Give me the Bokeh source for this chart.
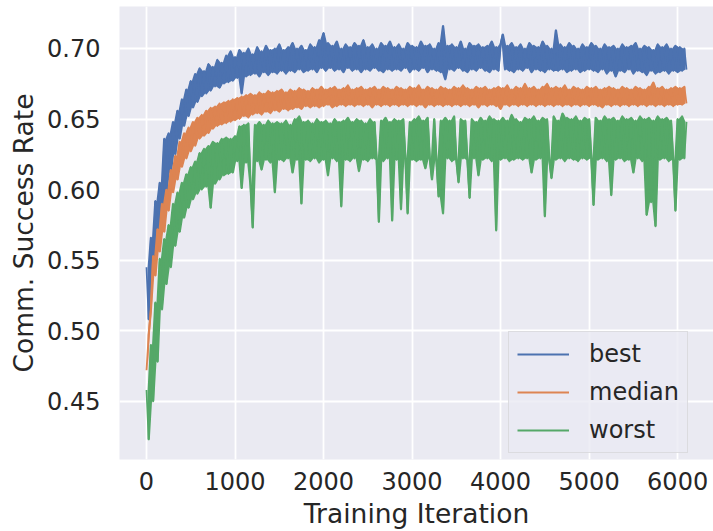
from bokeh.plotting import figure
from bokeh.models import FixedTicker, NumeralTickFormatter, Range1d
from bokeh.embed import file_html
from bokeh.resources import INLINE

# Iteration step of the sampled readings
iterations = list(range(0, 6101, 25))

best = [
    0.545, 0.508, 0.566, 0.541, 0.592, 0.558, 0.605, 0.580, 0.636, 0.598,
    0.640, 0.612, 0.648, 0.625, 0.656, 0.636, 0.664, 0.645, 0.671, 0.652,
    0.677, 0.658, 0.682, 0.662, 0.686, 0.666, 0.684, 0.668, 0.689, 0.670,
    0.687, 0.673, 0.692, 0.672, 0.690, 0.675, 0.695, 0.676, 0.698, 0.677,
    0.694,
    0.679, 0.699, 0.668, 0.697, 0.680, 0.700, 0.681, 0.696,
    0.682, 0.701, 0.680, 0.698, 0.683, 0.702, 0.681, 0.699,
    0.683, 0.700, 0.682, 0.703, 0.684, 0.699, 0.682, 0.701,
    0.684, 0.704, 0.683, 0.700, 0.685, 0.702, 0.683, 0.699,
    0.684, 0.703, 0.685, 0.701, 0.683, 0.706, 0.686, 0.711,
    0.684, 0.704, 0.686, 0.702, 0.684, 0.705, 0.685, 0.700,
    0.683, 0.703, 0.686, 0.701, 0.684, 0.704, 0.685, 0.702,
    0.683, 0.706, 0.685, 0.701, 0.684, 0.703, 0.686, 0.700,
    0.684, 0.704, 0.683, 0.702, 0.685, 0.705, 0.684, 0.701,
    0.685, 0.703, 0.684, 0.700, 0.686, 0.704, 0.683, 0.702,
    0.685, 0.701, 0.684, 0.705, 0.686, 0.702, 0.683, 0.703,
    0.685, 0.700, 0.684, 0.704, 0.683, 0.716, 0.678, 0.702,
    0.685, 0.703, 0.684, 0.701, 0.686, 0.705, 0.684, 0.700,
    0.683, 0.704, 0.685, 0.702, 0.684, 0.703, 0.686, 0.701,
    0.684, 0.702, 0.683, 0.705, 0.685, 0.701, 0.684, 0.703,
    0.710, 0.685, 0.702, 0.684, 0.704, 0.683, 0.701, 0.685,
    0.703, 0.684, 0.700, 0.686, 0.704, 0.683, 0.702, 0.685,
    0.701, 0.684, 0.705, 0.683, 0.702, 0.685, 0.700, 0.684,
    0.713, 0.684, 0.703, 0.685, 0.701, 0.683, 0.704, 0.684,
    0.702, 0.685, 0.700, 0.683, 0.703, 0.684, 0.701, 0.685,
    0.704, 0.684, 0.702, 0.683, 0.700, 0.685, 0.703, 0.682,
    0.701, 0.684, 0.702, 0.680, 0.700, 0.684, 0.703, 0.683,
    0.701, 0.685, 0.702, 0.682, 0.704, 0.684, 0.700, 0.683,
    0.702, 0.681, 0.701, 0.684, 0.699, 0.682, 0.703, 0.683,
    0.701, 0.684, 0.703, 0.682, 0.700, 0.684, 0.702, 0.683,
    0.701, 0.684, 0.700, 0.685,
]

median = [
    0.472, 0.497, 0.515, 0.553, 0.539, 0.572, 0.556, 0.590, 0.570, 0.600,
    0.585, 0.614, 0.598, 0.624, 0.607, 0.634, 0.616, 0.640, 0.622, 0.644,
    0.627, 0.648, 0.631, 0.651, 0.636, 0.653, 0.638, 0.656, 0.640, 0.658,
    0.643, 0.659, 0.645, 0.661, 0.646, 0.662, 0.647, 0.663, 0.648, 0.664,
    0.649,
    0.665, 0.650, 0.666, 0.652, 0.667, 0.651, 0.668, 0.653,
    0.667, 0.654, 0.669, 0.653, 0.668, 0.655, 0.670, 0.654,
    0.669, 0.656, 0.670, 0.655, 0.671, 0.657, 0.669, 0.656,
    0.671, 0.657, 0.670, 0.658, 0.672, 0.657, 0.671, 0.659,
    0.670, 0.658, 0.672, 0.659, 0.671, 0.658, 0.673, 0.659,
    0.671, 0.660, 0.672, 0.658, 0.673, 0.659, 0.671, 0.660,
    0.672, 0.659, 0.674, 0.660, 0.671, 0.659, 0.672, 0.660,
    0.673, 0.659, 0.671, 0.660, 0.672, 0.658, 0.673, 0.660,
    0.671, 0.659, 0.673, 0.660, 0.672, 0.659, 0.671, 0.660,
    0.673, 0.659, 0.672, 0.660, 0.671, 0.659, 0.673, 0.660,
    0.672, 0.659, 0.674, 0.660, 0.671, 0.658, 0.673, 0.660,
    0.672, 0.659, 0.671, 0.660, 0.673, 0.659, 0.672, 0.660,
    0.671, 0.659, 0.673, 0.660, 0.672, 0.659, 0.674, 0.660,
    0.672, 0.659, 0.671, 0.660, 0.673, 0.658, 0.672, 0.660,
    0.673, 0.659, 0.671, 0.660, 0.672, 0.659, 0.673, 0.657,
    0.672, 0.660, 0.674, 0.659, 0.671, 0.660, 0.673, 0.659,
    0.672, 0.660, 0.675, 0.659, 0.672, 0.660, 0.673, 0.659,
    0.671, 0.660, 0.673, 0.659, 0.675, 0.660, 0.672, 0.659,
    0.673, 0.660, 0.672, 0.659, 0.674, 0.660, 0.671, 0.659,
    0.673, 0.660, 0.672, 0.659, 0.671, 0.660, 0.673, 0.659,
    0.672, 0.660, 0.673, 0.659, 0.671, 0.658, 0.672, 0.660,
    0.673, 0.659, 0.672, 0.660, 0.671, 0.659, 0.673, 0.660,
    0.672, 0.659, 0.671, 0.660, 0.673, 0.659, 0.672, 0.660,
    0.671, 0.659, 0.673, 0.660, 0.676, 0.659, 0.672, 0.660,
    0.673, 0.659, 0.671, 0.660, 0.672, 0.659, 0.673, 0.660,
    0.672, 0.660, 0.673, 0.661,
]

worst = [
    0.458, 0.423, 0.490, 0.450, 0.520, 0.478, 0.551, 0.515, 0.565, 0.533,
    0.575, 0.545, 0.590, 0.560, 0.598, 0.570, 0.605, 0.580, 0.611, 0.587,
    0.616, 0.593, 0.620, 0.597, 0.626, 0.600, 0.629, 0.602, 0.631, 0.587,
    0.634, 0.604, 0.633, 0.607, 0.636, 0.610, 0.637, 0.611, 0.636, 0.612,
    0.638,
    0.620, 0.645, 0.601, 0.646, 0.619, 0.647, 0.603, 0.573,
    0.646, 0.620, 0.648, 0.614, 0.646, 0.621, 0.649, 0.619,
    0.647, 0.598, 0.648, 0.621, 0.647, 0.620, 0.649, 0.622,
    0.646, 0.612, 0.650, 0.621, 0.652, 0.590, 0.648, 0.621,
    0.649, 0.620, 0.647, 0.622, 0.650, 0.619, 0.648, 0.621,
    0.649, 0.610, 0.647, 0.622, 0.650, 0.620, 0.648, 0.588,
    0.649, 0.621, 0.651, 0.620, 0.648, 0.622, 0.650, 0.613,
    0.649, 0.621, 0.647, 0.620, 0.650, 0.622, 0.648, 0.621,
    0.577, 0.649, 0.620, 0.651, 0.622, 0.648, 0.578, 0.650,
    0.621, 0.649, 0.586, 0.650, 0.622, 0.583, 0.648, 0.621,
    0.650, 0.620, 0.652, 0.621, 0.649, 0.615, 0.651, 0.622,
    0.607, 0.650, 0.621, 0.595, 0.649, 0.583, 0.651, 0.622,
    0.649, 0.620, 0.652, 0.621, 0.605, 0.650, 0.622, 0.649,
    0.621, 0.594, 0.650, 0.622, 0.648, 0.610, 0.651, 0.621,
    0.649, 0.622, 0.652, 0.620, 0.650, 0.571, 0.649, 0.621,
    0.651, 0.622, 0.649, 0.620, 0.653, 0.621, 0.650, 0.622,
    0.648, 0.621, 0.651, 0.622, 0.650, 0.612, 0.652, 0.621,
    0.649, 0.622, 0.651, 0.581, 0.650, 0.621, 0.608, 0.652,
    0.621, 0.649, 0.622, 0.654, 0.620, 0.651, 0.622, 0.650,
    0.621, 0.652, 0.620, 0.649, 0.622, 0.651, 0.621, 0.650,
    0.622, 0.589, 0.651, 0.621, 0.649, 0.622, 0.652, 0.620,
    0.650, 0.596, 0.651, 0.621, 0.649, 0.622, 0.652, 0.620,
    0.650, 0.621, 0.651, 0.612, 0.649, 0.622, 0.652, 0.620,
    0.650, 0.582, 0.651, 0.591, 0.649, 0.574, 0.652, 0.621,
    0.650, 0.622, 0.651, 0.620, 0.649, 0.621, 0.585, 0.650,
    0.621, 0.652, 0.622, 0.648,
]

series_names = ["best", "median", "worst"]
x_ticks = [0, 1000, 2000, 3000, 4000, 5000, 6000]
y_ticks = [0.45, 0.50, 0.55, 0.60, 0.65, 0.70]

colors = ["#4C72B0", "#DD8452", "#55A868"]
FONT = "DejaVu Sans"
TXT = "#262626"

p = figure(width=713, height=531, output_backend="svg", toolbar_location=None,
           x_range=Range1d(-305, 6405), y_range=Range1d(0.4088, 0.7297),
           min_border_left=119, min_border_right=0, min_border_top=6,
           min_border_bottom=0)

p.background_fill_color = "#EAEAF2"
p.border_fill_color = "white"
p.outline_line_color = None

for g in (p.xgrid[0], p.ygrid[0]):
    g.grid_line_color = "white"
    g.grid_line_width = 1.8

p.xaxis.ticker = FixedTicker(ticks=x_ticks)
p.yaxis.ticker = FixedTicker(ticks=y_ticks)
p.yaxis.formatter = NumeralTickFormatter(format="0.00")
p.xgrid[0].ticker = p.xaxis[0].ticker
p.ygrid[0].ticker = p.yaxis[0].ticker

for ax in (p.xaxis[0], p.yaxis[0]):
    ax.axis_line_color = None
    ax.major_tick_line_color = None
    ax.minor_tick_line_color = None
    ax.major_tick_out = 0
    ax.major_tick_in = 0
    ax.major_label_text_font = FONT
    ax.major_label_text_font_size = "24px"
    ax.major_label_text_color = TXT
    ax.axis_label_text_font = FONT
    ax.axis_label_text_font_size = "26.5px"
    ax.axis_label_text_font_style = "normal"
    ax.axis_label_text_color = TXT

p.xaxis.axis_label = "Training Iteration"
p.yaxis.axis_label = "Comm. Success Rate"
p.xaxis.major_label_standoff = 12
p.xaxis.axis_label_standoff = 5
p.yaxis.major_label_standoff = 19
p.yaxis.axis_label_standoff = 5

for name, vals, c in zip(series_names, [best, median, worst], colors):
    # span covered by the trace between consecutive readings (dense noisy trace)
    mid_x = [(a + b) / 2 for a, b in zip(iterations[:-1], iterations[1:])]
    span_lo = [min(a, b) for a, b in zip(vals[:-1], vals[1:])]
    span_hi = [max(a, b) for a, b in zip(vals[:-1], vals[1:])]
    p.varea(x=mid_x, y1=span_lo, y2=span_hi, fill_color=c, fill_alpha=1.0)
    p.line(iterations, vals, line_color=c, line_width=1.8,
           line_join="round", legend_label=name)

lg = p.legend[0]
lg.location = (389, 6)
lg.label_text_font = FONT
lg.label_text_font_size = "24px"
lg.label_text_color = TXT
lg.glyph_width = 52
lg.label_standoff = 20
lg.padding = 8
lg.spacing = 10
lg.background_fill_color = "#EAEAF2"
lg.background_fill_alpha = 0.8
lg.border_line_color = "#CCCCCC"
lg.border_line_width = 1

open("out.html", "w").write(file_html(p, INLINE))
